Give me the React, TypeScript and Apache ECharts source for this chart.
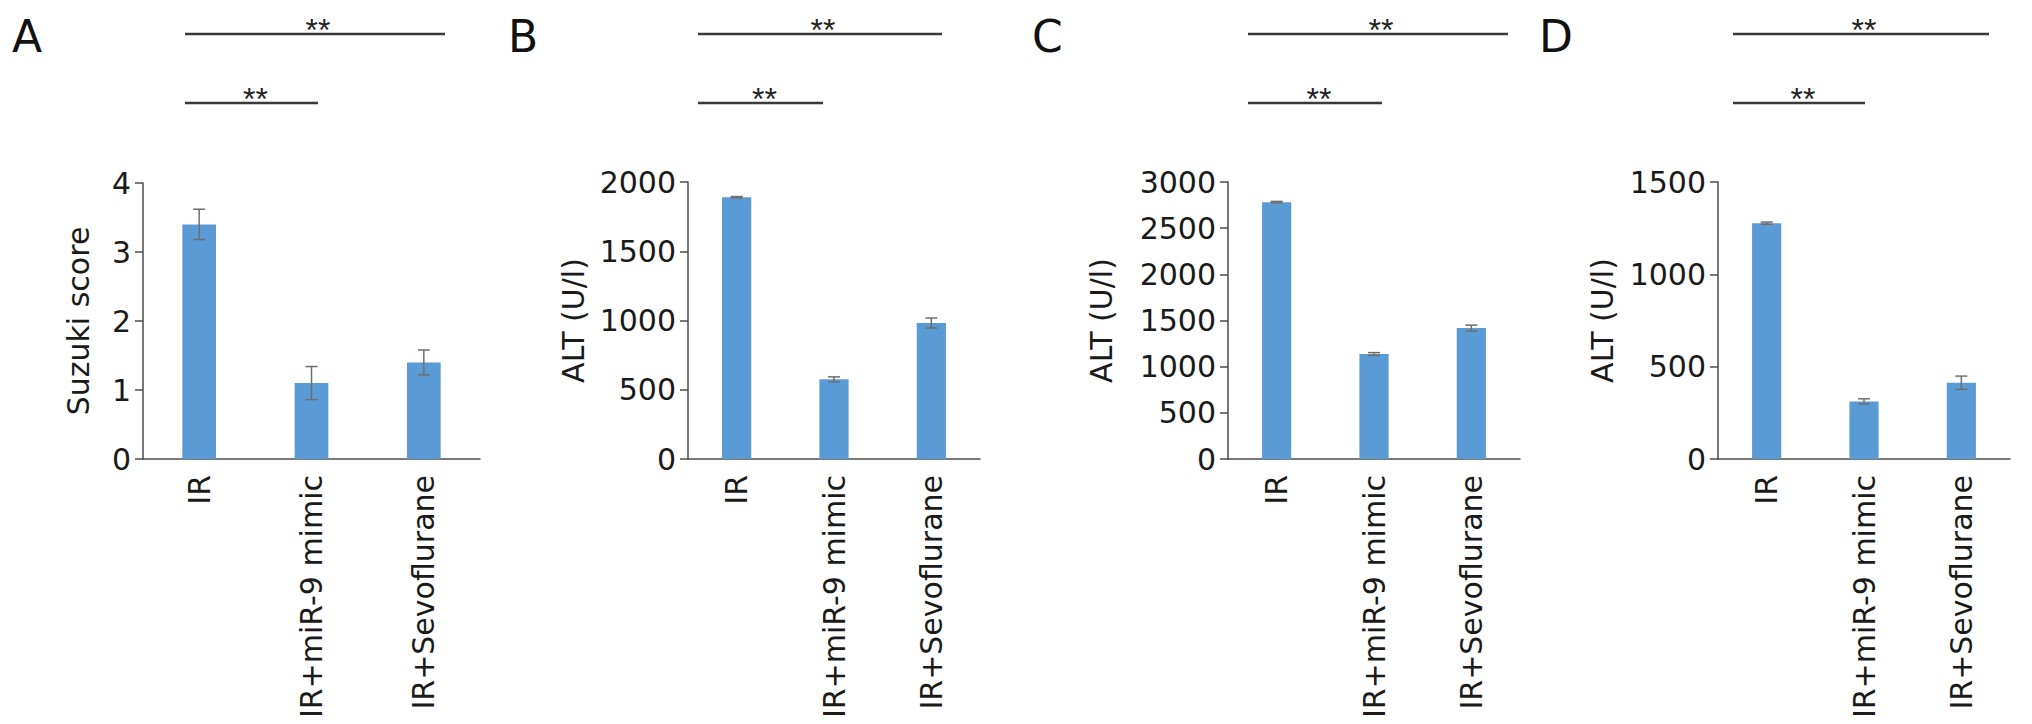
import React, { useEffect, useRef } from "react";
import * as echarts from "echarts";

// ---- data ----
const categories = ["IR", "IR+miR-9 mimic", "IR+Sevoflurane"];
const panelLetters = ["A", "B", "C", "D"];
const yNames = ["Suzuki score", "ALT (U/l)", "ALT (U/l)", "ALT (U/l)"];
const yMax = [4, 2000, 3000, 1500];
const yInterval = [1, 500, 500, 500];

const suzukiMean = [3.4, 1.1, 1.4];
const suzukiErr = [0.22, 0.24, 0.18];
const altBMean = [1890, 575, 982];
const altBErr = [5, 18, 36];
const altCMean = [2782, 1137, 1418];
const altCErr = [8, 15, 32];
const altDMean = [1277, 312, 413];
const altDErr = [6, 14, 36];

const means = [suzukiMean, altBMean, altCMean, altDMean];
const errs = [suzukiErr, altBErr, altCErr, altDErr];
const sigMark = "**";

// ---- layout (pixels) ----
const grids = [
  { left: 143, top: 183, width: 337, height: 276, nameGap: 50 },
  { left: 688, top: 182, width: 292, height: 277, nameGap: 100 },
  { left: 1228, top: 182, width: 292, height: 277, nameGap: 112 },
  { left: 1718, top: 182, width: 292, height: 277, nameGap: 101 },
];
const letterX = [12, 508, 1032, 1539];
// significance brackets: [x1, topEnd, secondEnd]
const brackets = [
  [185, 445, 318],
  [698, 942, 823],
  [1248, 1508, 1382],
  [1733, 1989, 1865],
];
const topLineY = 34;
const secondLineY = 103;

const FONT = "'DejaVu Sans', sans-serif";
const TEXT = "#1a1a1a";
const AXIS = "#4d4d4d";
const BAR = "#5b9bd5";

function buildOption() {
  const grid = grids.map((g) => ({
    left: g.left,
    top: g.top,
    width: g.width,
    height: g.height,
    outerBoundsMode: "none",
    containLabel: false,
  }));
  const xAxis = grids.map((_, i) => ({
    type: "category",
    gridIndex: i,
    data: categories,
    axisLine: { show: true, lineStyle: { color: AXIS, width: 1.5 } },
    axisTick: { show: false },
    axisLabel: {
      rotate: 90,
      margin: 16,
      fontSize: 30,
      fontFamily: FONT,
      color: TEXT,
      interval: 0,
    },
  }));
  const yAxis = grids.map((g, i) => ({
    type: "value",
    gridIndex: i,
    min: 0,
    max: yMax[i],
    interval: yInterval[i],
    name: yNames[i],
    nameLocation: "middle",
    nameGap: g.nameGap,
    nameTextStyle: { fontSize: 30, fontFamily: FONT, color: TEXT },
    axisLine: { show: true, lineStyle: { color: AXIS, width: 1.5 } },
    axisTick: { show: true, length: 8, lineStyle: { color: AXIS, width: 1.5 } },
    splitLine: { show: false },
    axisLabel: {
      fontSize: 30,
      fontFamily: FONT,
      color: TEXT,
      margin: 12,
      formatter: (v: number) => String(v),
    },
  }));
  const series: any[] = [];
  grids.forEach((_, i) => {
    series.push({
      type: "bar",
      xAxisIndex: i,
      yAxisIndex: i,
      data: means[i],
      barWidth: "30%",
      itemStyle: { color: BAR },
      z: 2,
    });
    series.push({
      type: "custom",
      xAxisIndex: i,
      yAxisIndex: i,
      z: 3,
      data: means[i].map((m, k) => [k, m, errs[i][k]]),
      renderItem: (params: any, api: any) => {
        const x = api.value(0);
        const y = api.value(1);
        const e = api.value(2);
        const hi = api.coord([x, y + e]);
        const lo = api.coord([x, y - e]);
        const hw = 6;
        const st = { stroke: "#6e6e6e", lineWidth: 1.5 };
        return {
          type: "group",
          children: [
            { type: "line", shape: { x1: hi[0], y1: hi[1], x2: lo[0], y2: lo[1] }, style: st },
            { type: "line", shape: { x1: hi[0] - hw, y1: hi[1], x2: hi[0] + hw, y2: hi[1] }, style: st },
            { type: "line", shape: { x1: lo[0] - hw, y1: lo[1], x2: lo[0] + hw, y2: lo[1] }, style: st },
          ],
        };
      },
    });
  });

  const graphic: any[] = [];
  panelLetters.forEach((l, i) => {
    graphic.push({
      type: "text",
      left: letterX[i],
      top: 14,
      style: { text: l, fontSize: 44, fontFamily: FONT, fill: "#111" },
    });
    const [x1, xTop, xSec] = brackets[i];
    const lineStyle = { stroke: "#3a3a3a", lineWidth: 2.5 };
    graphic.push({ type: "line", shape: { x1, y1: topLineY, x2: xTop, y2: topLineY }, style: lineStyle });
    graphic.push({ type: "line", shape: { x1, y1: secondLineY, x2: xSec, y2: secondLineY }, style: lineStyle });
    graphic.push({
      type: "text",
      x: (x1 + xTop) / 2 + 3,
      y: topLineY - 4,
      style: { text: sigMark, fontSize: 32, fontFamily: "'Liberation Sans', Arial, sans-serif", fill: "#222", align: "center", verticalAlign: "middle" },
    });
    graphic.push({
      type: "text",
      x: (x1 + xSec) / 2 + 4,
      y: secondLineY - 4,
      style: { text: sigMark, fontSize: 32, fontFamily: "'Liberation Sans', Arial, sans-serif", fill: "#222", align: "center", verticalAlign: "middle" },
    });
  });

  return {
    animation: false,
    backgroundColor: "#ffffff",
    grid,
    xAxis,
    yAxis,
    series,
    graphic,
  };
}

export default function App() {
  const ref = useRef<HTMLDivElement>(null);
  useEffect(() => {
    if (!ref.current) return;
    const chart = echarts.init(ref.current, null, { renderer: "svg" });
    chart.setOption(buildOption() as any);
    return () => chart.dispose();
  }, []);
  return (
    <div
      ref={ref}
      style={{ position: "fixed", left: 0, top: 0, width: 2032, height: 724, background: "#fff" }}
    />
  );
}
